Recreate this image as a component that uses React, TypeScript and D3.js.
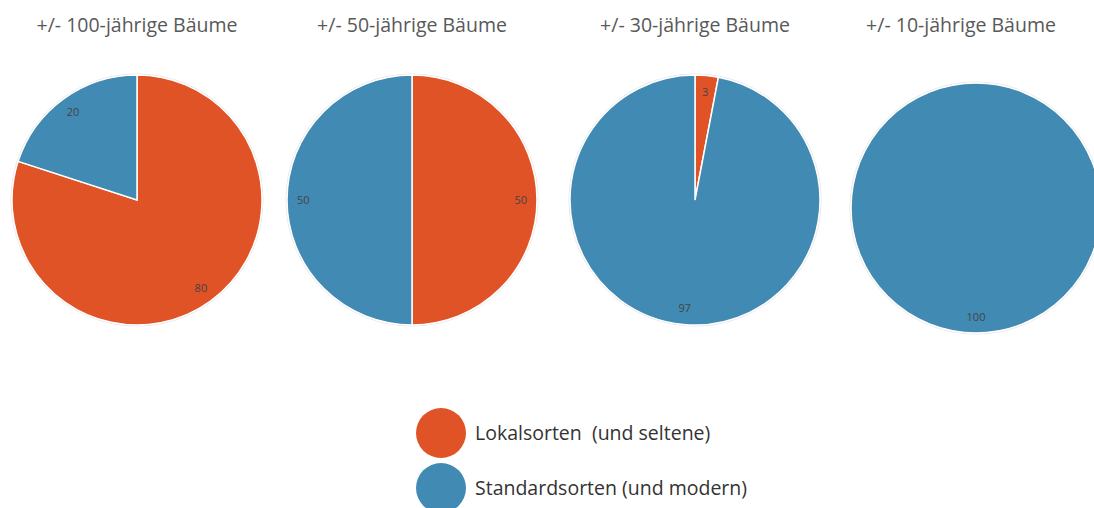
import React from "react";
import * as d3 from "d3";

// chart data
const titles = [
  "+/- 100-jährige Bäume",
  "+/- 50-jährige Bäume",
  "+/- 30-jährige Bäume",
  "+/- 10-jährige Bäume",
];
const categories = ["Lokalsorten  (und seltene)", "Standardsorten (und modern)"];
const lokalValues = [80, 50, 3, 0];
const standardValues = [20, 50, 97, 100];
const colors = ["#E05327", "#418AB3"];

const width = 1094;
const height = 508;
const radius = 125;

export default function App() {
  // pie centres as laid out in the original slide
  const x = d3.scaleOrdinal<string, number>().domain(titles).range([137, 412, 695, 976]);
  const cy = d3.scaleOrdinal<string, number>().domain(titles).range([200, 200, 200, 208]);
  const pie = d3
    .pie<{ name: string; value: number; i: number }>()
    .sort(null)
    .value((d) => d.value);
  const arc = d3.arc<d3.PieArcDatum<any>>().innerRadius(0).outerRadius(radius);
  const labelArc = d3
    .arc<d3.PieArcDatum<any>>()
    .innerRadius(radius * 0.87)
    .outerRadius(radius * 0.87);

  return (
    <svg
      width={width}
      height={height}
      style={{ position: "absolute", left: 0, top: 0, fontFamily: "'Open Sans', sans-serif" }}
    >
      {titles.map((t, k) => {
        const slices = pie([
          { name: categories[0], value: lokalValues[k], i: 0 },
          { name: categories[1], value: standardValues[k], i: 1 },
        ]).filter((s) => s.data.value > 0);
        return (
          <g key={t} transform={`translate(${x(t)},0)`}>
            <text x={k === 3 ? -15 : 0} y={32} textAnchor="middle" fontSize={19.5} fill="#595959">
              {t}
            </text>
            <g transform={`translate(0,${cy(t)})`}>
              <circle r={radius + 1} fill="none" stroke="#e4e4e4" strokeWidth={1} />
              {slices.map((s) => (
                <path
                  key={s.data.name}
                  d={arc(s) || ""}
                  fill={colors[s.data.i]}
                  stroke="#fff"
                  strokeWidth={1.5}
                />
              ))}
              {slices.map((s) => {
                const [lx, ly] = labelArc.centroid(s);
                return (
                  <text
                    key={s.data.name + "l"}
                    x={lx}
                    y={ly}
                    dy="0.35em"
                    textAnchor="middle"
                    fontSize={11}
                    fill="#444"
                  >
                    {s.data.value}
                  </text>
                );
              })}
            </g>
          </g>
        );
      })}
      {categories.map((c, i) => (
        <g key={c} transform={`translate(441,${433 + i * 55})`}>
          <circle r={25} fill={colors[i]} />
          <text x={34} y={0} dy="0.35em" fontSize={19.5} fill="#333" style={{ whiteSpace: "pre" }}>
            {c}
          </text>
        </g>
      ))}
    </svg>
  );
}
